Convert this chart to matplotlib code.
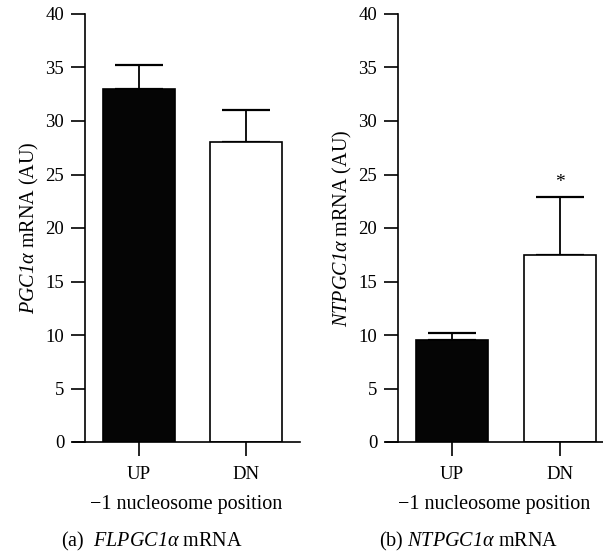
import matplotlib.pyplot as plt

plt.rcParams['font.family'] = ['Liberation Serif', 'DejaVu Serif']
# math text only holds the italic gene names, digits included
plt.rcParams['mathtext.fontset'] = 'custom'
plt.rcParams['mathtext.rm'] = 'Liberation Serif:italic'
plt.rcParams['mathtext.it'] = 'Liberation Serif:italic'

# data
groups = ['UP', 'DN']
fl_means = [33.0, 28.0]
fl_err = [2.2, 3.0]
nt_means = [9.5, 17.5]
nt_err = [0.7, 5.4]
star_label = '*'

ylabels = [r'$PGC1\alpha$ mRNA (AU)', r'$NTPGC1\alpha$ mRNA (AU)']
captions = [r'(a)  $FLPGC1\alpha$ mRNA', r'(b) $NTPGC1\alpha$ mRNA']
xlabel = '\u22121 nucleosome position'

W, H = 603, 560
fig = plt.figure(figsize=(W / 100, H / 100), dpi=100)

# pixel layout: (axes left, axes right, spine x, x of UP centre, px per unit)
layouts = [(73, 300, 85, 139, 107), (386, 603, 398, 452, 108)]
y0_px, y40_px = 442, 14

series = [(fl_means, fl_err), (nt_means, nt_err)]
for i, (means, errs) in enumerate(series):
    left, right, spine, c0, ppu = layouts[i]
    ax = fig.add_axes([left / W, (H - y0_px) / H, (right - left) / W, (y0_px - y40_px) / H])
    x = list(range(len(groups)))
    ax.bar(x, means, width=0.67, color=['#050505', 'white'], edgecolor='black',
           linewidth=1.2, zorder=2)
    ax.errorbar(x, means, yerr=[[0, 0], errs], fmt='none', ecolor='black',
                elinewidth=1.3, capsize=17, capthick=1.6, zorder=1)
    ax.set_xlim((left - c0) / ppu, (right - c0) / ppu)
    ax.set_ylim(0, 40)
    ax.spines['top'].set_visible(False)
    ax.spines['right'].set_visible(False)
    ax.spines['left'].set_position(('data', (spine - c0) / ppu))
    ax.spines['left'].set_bounds(0, 40)
    for s in ['left', 'bottom']:
        ax.spines[s].set_linewidth(1.2)
    ax.set_yticks(range(0, 41, 5))
    ax.set_xticks(x)
    ax.set_xticklabels(groups)
    ax.tick_params(axis='both', direction='out', length=10, width=1.2,
                   labelsize=13.5, pad=5)
    ax.tick_params(axis='x', pad=7)
    ax.set_ylabel(ylabels[i], fontsize=14.5, labelpad=3)
    ax.set_xlabel(xlabel, fontsize=14.5, labelpad=9)
    if i == 1:
        ax.text(1, means[1] + errs[1] + 0.6, star_label, ha='center', va='bottom',
                fontsize=14)

fig.text(152 / W, 1 - 541 / H, captions[0], ha='center', va='center', fontsize=14.5)
fig.text(469 / W, 1 - 541 / H, captions[1], ha='center', va='center', fontsize=14.5)

fig.savefig('out.png', dpi=100)
